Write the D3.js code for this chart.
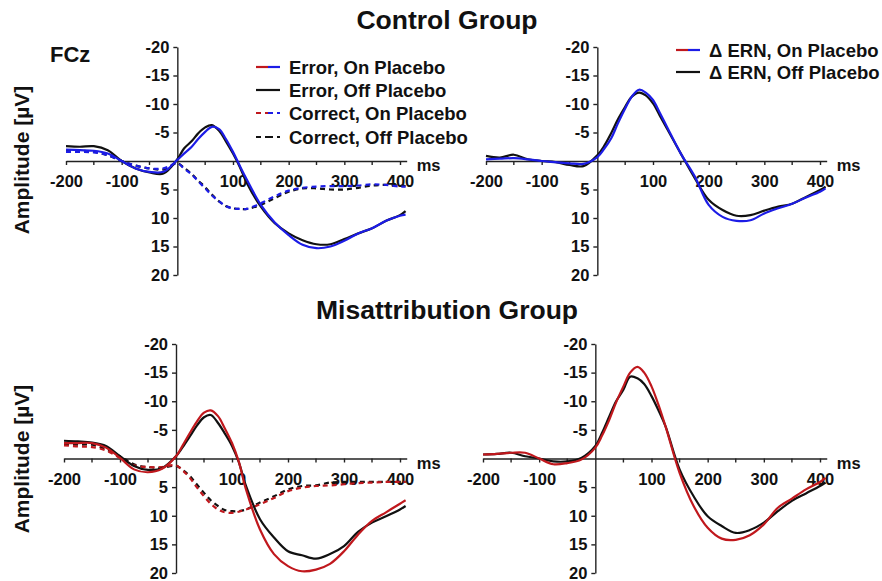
<!DOCTYPE html>
<html>
<head>
<meta charset="utf-8">
<script src="https://cdn.jsdelivr.net/npm/d3@7"></script>
<style>
body { margin: 0; background: #fff; }
text { font-family: "Liberation Sans", Arial, sans-serif; font-weight: bold; fill: #111; }
</style>
</head>
<body>
<div id="vis-container"></div>
<script>
// time points (ms) shared by every waveform
var ms = [-200,-175,-150,-125,-100,-75,-50,-25,0,12,25,37,50,62,75,87,100,112,125,150,175,200,225,250,275,300,325,350,375,400,410];

// Control group, FCz
var ctlErrOn  = [-2.0,-1.9,-1.8,-1.3,0,1.3,1.9,1.9,-0.2,-1.3,-2.4,-3.8,-5.1,-6.0,-5.6,-3.9,-1.6,0.8,3.3,7.7,10.8,13.0,14.7,15.3,15.0,14.0,12.7,11.8,10.5,9.6,9.4];
var ctlErrOff = [-2.6,-2.5,-2.6,-1.9,0,1.3,2.0,2.2,-0.3,-2.2,-3.4,-4.8,-5.9,-6.3,-5.3,-3.5,-1.3,1.0,3.9,8.0,10.9,12.7,13.9,14.6,14.6,13.7,12.7,11.8,10.5,9.5,8.8];
var ctlCorOn  = [-1.6,-1.6,-1.5,-1.0,0,0.8,1.3,1.3,0.4,1.3,2.3,3.5,4.8,6.0,7.1,7.9,8.3,8.4,8.4,7.4,6.2,5.2,4.7,4.5,4.4,4.4,4.3,4.1,4.2,4.5,4.5];
var ctlCorOff = [-1.9,-1.8,-1.6,-1.0,0,0.8,1.3,1.5,0.4,1.2,2.2,3.4,4.6,5.9,7.1,7.9,8.3,8.4,8.4,7.7,6.5,5.4,4.8,4.8,5.0,5.0,4.7,4.3,4.2,4.3,4.4];
var ctlDiffOn  = [-0.3,-0.4,-0.5,-0.3,0,0.2,0.4,0.5,-0.7,-2.1,-4.0,-6.6,-9.2,-11.3,-12.5,-12.0,-10.7,-8.5,-6.0,-1.3,2.7,7.7,9.8,10.5,10.4,9.2,8.3,7.5,6.4,5.4,4.8];
var ctlDiffOff = [-0.9,-0.6,-1.1,-0.3,0,0.2,0.7,0.9,-1.0,-2.6,-4.9,-7.3,-9.5,-11.3,-12.0,-11.5,-10.1,-8.0,-5.7,-1.3,3.0,6.8,8.6,9.6,9.5,8.7,8.0,7.5,6.3,5.1,4.5];

// Misattribution group
var misErrOn  = [-2.7,-2.7,-2.7,-1.9,-0.1,1.9,2.4,1.8,-0.4,-2.3,-4.5,-6.4,-8.0,-8.4,-7.4,-5.3,-2.7,0.5,5.4,12.4,16.7,18.8,19.7,19.4,18.4,16.2,13.3,10.9,9.4,7.9,7.3];
var misErrOff = [-3.1,-3.0,-2.8,-2.2,-0.4,1.3,2.0,1.7,-0.4,-2.0,-3.9,-5.7,-7.2,-7.6,-6.2,-4.4,-2.2,0.6,4.8,10.6,13.8,16.2,16.9,17.5,16.7,15.3,12.8,11.2,10.1,8.9,8.3];
var misCorOn  = [-2.3,-2.1,-2.0,-1.4,-0.1,1.2,1.5,1.5,1.2,2.1,3.4,5.0,6.6,7.9,8.9,9.4,9.5,9.3,8.9,8.0,6.9,5.7,5.1,4.8,4.7,4.5,4.3,4.2,4.1,4.1,4.1];
var misCorOff = [-2.4,-2.4,-2.4,-1.6,-0.4,1.0,1.5,1.6,1.3,2.0,3.1,4.5,6.0,7.3,8.3,9.0,9.2,9.2,8.9,7.7,6.6,5.4,4.8,4.7,4.2,4.1,4.1,4.1,4.1,4.1,4.1];
var misDiffOn  = [-0.7,-0.8,-1.0,-1.0,0,1.0,0.8,0.2,-1.9,-4.0,-6.8,-9.8,-12.6,-15.0,-16.0,-15.0,-12.6,-9.5,-5.6,2.5,8.3,12.1,14.0,14.2,13.4,11.5,8.6,7.0,5.4,4.1,3.4];
var misDiffOff = [-0.7,-0.8,-1.0,-0.4,0,0.5,0.5,-0.1,-2.2,-4.5,-7.4,-10.0,-12.0,-14.3,-14.0,-13.0,-10.9,-8.5,-5.6,1.9,6.6,10.1,11.8,13.0,12.5,11.2,9.2,7.4,6.1,4.8,4.2];

var xTicks = [-200,-100,100,200,300,400];
var xMinor = [-150,-50,50,150,250,350];
var yTicks = [-20,-15,-10,-5,5,10,15,20];

var legendErr  = ["Error, On Placebo","Error, Off Placebo","Correct, On Placebo","Correct, Off Placebo"];
var legendDiff = ["\u0394 ERN, On Placebo","\u0394 ERN, Off Placebo"];

var BLUE = "#1c1ce6", RED = "#c0181d", BLACK = "#111";

var svg = d3.select("#vis-container").append("svg")
    .attr("width", 882)
    .attr("height", 581);

svg.append("text").attr("x", 447).attr("y", 29).attr("text-anchor", "middle")
    .style("font-size", "26.5px").text("Control Group");
svg.append("text").attr("x", 447).attr("y", 319).attr("text-anchor", "middle")
    .style("font-size", "26.5px").text("Misattribution Group");
svg.append("text").attr("x", 50).attr("y", 62).style("font-size", "22px").text("FCz");

// plain hyphen for negatives, like the original
var plain = function(d) { return String(d); };

var drawPanel = function(p) {
    var x = d3.scaleLinear().domain([-200, 400]).range([p.x0, p.x1]);
    var y = d3.scaleLinear().domain([-20, 20]).range([p.yTop, p.yBot]);
    var xLine = x.copy().domain([-200, 412]).range([x(-200), x(412)]);
    var g = svg.append("g");

    // x axis along zero
    var xa = g.append("g")
        .attr("transform", "translate(0," + y(0) + ")")
        .call(d3.axisBottom(xLine).tickValues(xTicks).tickSize(4).tickSizeOuter(0)
            .tickFormat(plain));
    xa.append("g").selectAll("line")
        .data(xMinor)
        .enter().append("line")
        .attr("x1", function(d) { return x(d); })
        .attr("x2", function(d) { return x(d); })
        .attr("y1", 0).attr("y2", 4);
    xa.selectAll("text").attr("dy", null).attr("y", 26)
        .style("font-size", "16.5px").style("fill", "#111");

    var ya = g.append("g")
        .attr("transform", "translate(" + x(0) + ",0)")
        .call(d3.axisLeft(y).tickValues(yTicks).tickSize(4).tickSizeOuter(0).tickFormat(plain));
    ya.selectAll("text").attr("x", -8).style("font-size", "16.5px").style("fill", "#111");

    g.selectAll(".domain, .tick line, line")
        .attr("stroke", "#222").attr("stroke-width", 1.4);
    g.selectAll(".tick text").style("font-family", "'Liberation Sans', Arial, sans-serif")
        .style("font-weight", "bold");

    g.append("text").attr("x", xLine.range()[1] + 10).attr("y", y(0) + 10)
        .style("font-size", "16.5px").text("ms");

    var line = d3.line()
        .x(function(d, i) { return x(ms[i]); })
        .y(function(d) { return y(d); })
        .curve(d3.curveCatmullRom.alpha(0.5));

    g.selectAll("path.wave")
        .data(p.series)
        .enter().append("path")
        .attr("class", "wave")
        .attr("d", function(s) { return line(s.values); })
        .attr("fill", "none")
        .attr("stroke", function(s) { return s.color; })
        .attr("stroke-width", 2.2)
        .attr("stroke-dasharray", function(s) { return s.dash ? "5,4" : null; });
};

var drawYLabel = function(cy) {
    svg.append("text")
        .attr("transform", "translate(29," + cy + ") rotate(-90)")
        .attr("text-anchor", "middle")
        .style("font-size", "21px")
        .text("Amplitude [\u00b5V]");
};

var drawLegend = function(labels, x0, ys, colorsA, colorsB, dashes, tx) {
    labels.forEach(function(lab, i) {
        var dash = dashes[i] ? "5,4" : null;
        svg.append("line").attr("x1", x0).attr("x2", x0 + 12).attr("y1", ys[i]).attr("y2", ys[i])
            .attr("stroke", colorsA[i]).attr("stroke-width", 2.2).attr("stroke-dasharray", dash);
        svg.append("line").attr("x1", x0 + 12).attr("x2", x0 + 24).attr("y1", ys[i]).attr("y2", ys[i])
            .attr("stroke", colorsB[i]).attr("stroke-width", 2.2).attr("stroke-dasharray", dash);
        svg.append("text").attr("x", tx).attr("y", ys[i] + 6.5)
            .style("font-size", "18.5px").text(lab);
    });
};

drawPanel({ x0: 66, x1: 400, yTop: 47, yBot: 275, series: [
    { values: ctlCorOff, color: BLACK, dash: true },
    { values: ctlCorOn,  color: BLUE,  dash: true },
    { values: ctlErrOff, color: BLACK },
    { values: ctlErrOn,  color: BLUE }
]});
drawPanel({ x0: 486, x1: 820, yTop: 47, yBot: 275, series: [
    { values: ctlDiffOff, color: BLACK },
    { values: ctlDiffOn,  color: BLUE }
]});
drawPanel({ x0: 64, x1: 400, yTop: 344, yBot: 573, series: [
    { values: misCorOff, color: BLACK, dash: true },
    { values: misCorOn,  color: RED,   dash: true },
    { values: misErrOff, color: BLACK },
    { values: misErrOn,  color: RED }
]});
drawPanel({ x0: 483, x1: 820, yTop: 344, yBot: 573, series: [
    { values: misDiffOff, color: BLACK },
    { values: misDiffOn,  color: RED }
]});

drawYLabel(160);
drawYLabel(459);

drawLegend(legendErr, 256, [67, 90, 113, 137],
    [RED, BLACK, RED, BLACK], [BLUE, BLACK, BLUE, BLACK], [false, false, true, true], 289);
drawLegend(legendDiff, 676, [50, 72],
    [RED, BLACK], [BLUE, BLACK], [false, false], 709);
</script>
</body>
</html>
